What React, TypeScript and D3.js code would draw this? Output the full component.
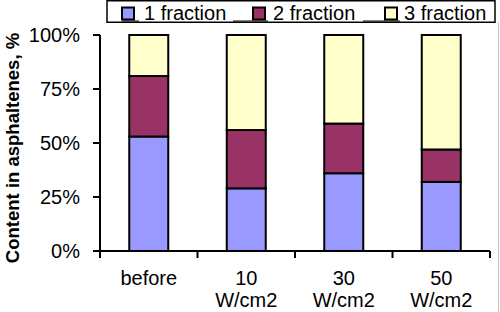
import React from "react";
import * as d3 from "d3";

const categories = ["before", "10 W/cm2", "30 W/cm2", "50 W/cm2"];
const fraction1 = [53, 29, 36, 32];
const fraction2 = [28, 27, 23, 15];
const fraction3 = [19, 44, 41, 53];
const seriesNames = ["1 fraction", "2 fraction", "3 fraction"];
const seriesColors = ["#9999FF", "#993366", "#FFFFCC"];
const yTicks = [0, 25, 50, 75, 100];

const W = 500;
const H = 312;
const FONT = "'Liberation Sans', Arial, Helvetica, sans-serif";

export default function App() {
  const x = d3
    .scaleBand<string>()
    .domain(categories)
    .range([100, 490])
    .paddingInner(0.6)
    .paddingOuter(0.3);
  const y = d3.scaleLinear().domain([0, 100]).range([251, 35]);

  const table = categories.map((c, i) => ({
    cat: c,
    f1: fraction1[i],
    f2: fraction2[i],
    f3: fraction3[i],
  }));
  const stack = d3.stack<any>().keys(["f1", "f2", "f3"]);
  const layers = stack(table);

  const x0 = 100;
  const x1 = 490;
  const yBase = y(0);

  // legend layout
  const legendSwatchX = [122, 253, 385];
  const legendTextX = [144, 273, 404];
  const underlines = [
    [122, 139],
    [233, 268],
    [363, 400],
  ];

  const boundaries = d3.range(categories.length + 1).map((i) => x0 + i * x.step());

  return (
    <svg
      width={W}
      height={H}
      style={{ position: "absolute", left: 0, top: 0, background: "#fff" }}
      fontFamily={FONT}
    >
      <rect x={0} y={0} width={W} height={H} fill="#fff" />
      {/* thin gray border line on right */}
      <line x1={498.5} x2={498.5} y1={22} y2={H} stroke="#c8c8c8" strokeWidth={1} />

      {/* bars */}
      {layers.map((layer, li) => (
        <g key={li}>
          {layer.map((d, di) => (
            <rect
              key={di}
              x={x(categories[di])!}
              y={y(d[1])}
              width={x.bandwidth()}
              height={y(d[0]) - y(d[1])}
              fill={seriesColors[li]}
              stroke="#000"
              strokeWidth={2}
            />
          ))}
        </g>
      ))}

      {/* y axis */}
      <line x1={x0} x2={x0} y1={y(100)} y2={yBase} stroke="#000" strokeWidth={2} />
      {yTicks.map((t) => (
        <g key={t}>
          <line x1={x0 - 7} x2={x0} y1={y(t)} y2={y(t)} stroke="#000" strokeWidth={2} />
          <text
            x={80}
            y={y(t)}
            dy="0.36em"
            textAnchor="end"
            fontSize={20}
            fill="#000"
          >
            {t}%
          </text>
        </g>
      ))}

      {/* x axis */}
      <line x1={x0} x2={x1} y1={yBase} y2={yBase} stroke="#000" strokeWidth={2} />
      {boundaries.map((bx, i) => (
        <line key={i} x1={bx} x2={bx} y1={yBase} y2={yBase + 7} stroke="#000" strokeWidth={2} />
      ))}
      {categories.map((c) => {
        const cx = x(c)! + x.bandwidth() / 2;
        const parts = c.split(" ");
        return (
          <text key={c} x={cx} y={285} textAnchor="middle" fontSize={20} fill="#000">
            {parts.map((p, i) => (
              <tspan key={i} x={cx} y={285 + i * 21.5}>
                {p}
              </tspan>
            ))}
          </text>
        );
      })}

      {/* y axis title */}
      <text
        transform={`translate(19,148) rotate(-90)`}
        textAnchor="middle"
        fontSize={18.5}
        fontWeight="bold"
        fill="#000"
      >
        Content in asphaltenes, %
      </text>

      {/* legend */}
      <rect x={107} y={0.75} width={388} height={21.5} fill="#fff" stroke="#000" strokeWidth={1.5} />
      {underlines.map((u, i) => (
        <line key={i} x1={u[0]} x2={u[1]} y1={21} y2={21} stroke="#000" strokeWidth={1} />
      ))}
      {seriesNames.map((n, i) => (
        <g key={n}>
          <rect
            x={legendSwatchX[i]}
            y={7.5}
            width={12}
            height={12}
            fill={seriesColors[i]}
            stroke="#000"
            strokeWidth={2}
          />
          <text x={legendTextX[i]} y={20} fontSize={20} fill="#000">
            {n}
          </text>
        </g>
      ))}
    </svg>
  );
}
